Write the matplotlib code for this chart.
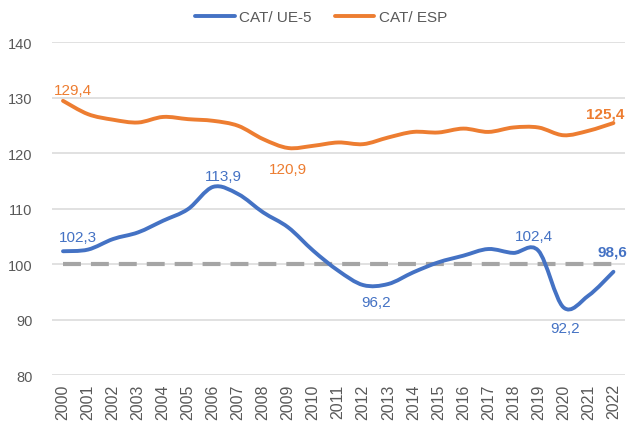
import numpy as np
import matplotlib
matplotlib.use("Agg")
import matplotlib.pyplot as plt
from matplotlib.path import Path
from matplotlib.patches import PathPatch
from matplotlib.lines import Line2D

plt.rcParams['font.family'] = ['Liberation Sans', 'DejaVu Sans']

years = list(range(2000, 2023))
cat_ue5 = [102.3, 102.6, 104.5, 105.7, 107.8, 109.9, 113.9, 112.6, 109.3, 106.6,
           102.4, 98.8, 96.2, 96.4, 98.5, 100.3, 101.5, 102.7, 102.0, 102.4,
           92.2, 94.3, 98.6]
cat_esp = [129.4, 127.0, 126.0, 125.5, 126.5, 126.1, 125.8, 124.9, 122.5, 120.9,
           121.3, 121.9, 121.6, 122.8, 123.8, 123.7, 124.4, 123.8, 124.6, 124.6,
           123.2, 124.0, 125.4]
base = [100] * len(years)

blue = '#4472C4'
orange = '#ED7D31'
grey_txt = '#595959'


def smooth_path(xs, ys):
    # Excel-like smoothed line: cubic bezier segments (Catmull-Rom style)
    p = np.column_stack([xs, ys]).astype(float)
    n = len(p)
    verts = [p[0]]
    codes = [Path.MOVETO]
    for i in range(n - 1):
        p0 = p[i - 1] if i > 0 else p[i]
        p3 = p[i + 2] if i + 2 < n else p[i + 1]
        c1 = p[i] + (p[i + 1] - p0) / 6.0
        c2 = p[i + 1] - (p3 - p[i]) / 6.0
        verts += [c1, c2, p[i + 1]]
        codes += [Path.CURVE4] * 3
    return Path(verts, codes)


fig = plt.figure(figsize=(6.31, 4.31), dpi=100)
ax = fig.add_axes([0.0824, 0.1276, 0.9076, 0.7726])

ax.set_xlim(1999.56, 2022.45)
ax.set_ylim(80, 140)
ax.set_yticks([80, 90, 100, 110, 120, 130, 140])
ax.set_xticks(years)
ax.set_xticklabels([str(y) for y in years], rotation=90, fontsize=11.5,
                   color=grey_txt)
ax.tick_params(axis='y', length=0, pad=14, labelsize=10.5, labelcolor=grey_txt)
ax.tick_params(axis='x', length=0, pad=6)
ax.grid(True, axis='y', color='#D9D9D9', linewidth=1.1)
ax.set_axisbelow(True)
for s in ax.spines.values():
    s.set_visible(False)

ax.plot(years, base, color='#A5A5A5', lw=3, dashes=(4.3, 2.4),
        solid_capstyle='butt', dash_capstyle='butt', zorder=2)

for vals, col in [(cat_esp, orange), (cat_ue5, blue)]:
    patch = PathPatch(smooth_path(years, vals), facecolor='none', edgecolor=col,
                      lw=2.8, capstyle='round', joinstyle='round', zorder=3)
    ax.add_patch(patch)

# data labels
labels = [
    (2000, cat_esp[0], orange, (10, 11), 'normal'),
    (2009, cat_esp[9], orange, (0, -21), 'normal'),
    (2022, cat_esp[22], orange, (-8, 10), 'bold'),
    (2000, cat_ue5[0], blue, (15, 14), 'normal'),
    (2006, cat_ue5[6], blue, (10, 11), 'normal'),
    (2012, cat_ue5[12], blue, (13, -17), 'normal'),
    (2019, cat_ue5[19], blue, (-4, 15), 'normal'),
    (2020, cat_ue5[20], blue, (2, -21), 'normal'),
    (2022, cat_ue5[22], blue, (-1, 20), 'bold'),
]
for x, y, col, off, w in labels:
    ax.annotate(f'{y:.1f}'.replace('.', ','), (x, y), xytext=off,
                textcoords='offset pixels', ha='center', va='center',
                color=col, fontsize=11, fontweight=w, zorder=4)

handles = [Line2D([], [], color=blue, lw=2.8, solid_capstyle='round'),
           Line2D([], [], color=orange, lw=2.8, solid_capstyle='round')]
fig.legend(handles, ['CAT/ UE-5', 'CAT/ ESP'], loc='center',
           bbox_to_anchor=(321 / 631, 1 - 18 / 431), ncol=2, frameon=False,
           fontsize=11, handlelength=2.6, handletextpad=0.3, columnspacing=1.5,
           labelcolor=grey_txt)

fig.savefig('out.png', dpi=100)
